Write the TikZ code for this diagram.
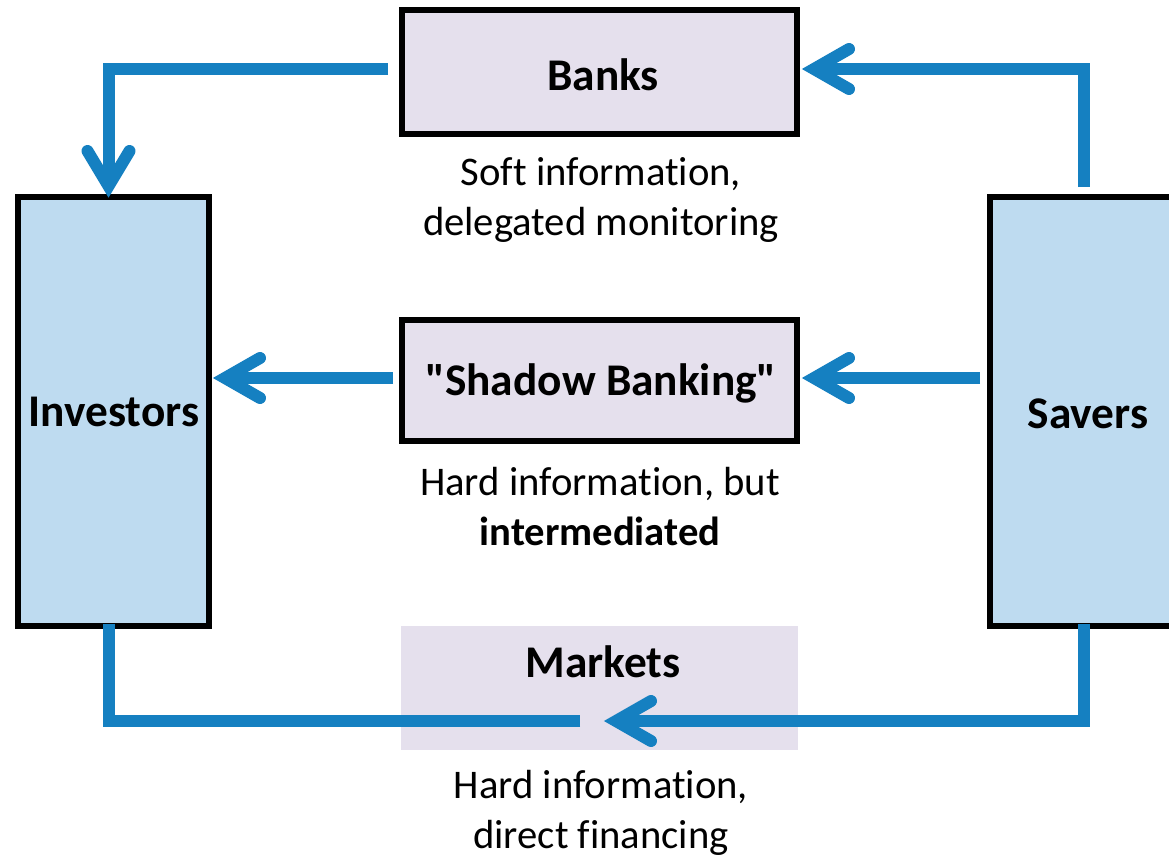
\documentclass[tikz,border=0pt]{standalone}
\usepackage{fontspec}
\setmainfont{Carlito}
\newfontfamily\carl{Carlito}[Ligatures=NoCommon]
\usetikzlibrary{calc}
\definecolor{arrowblue}{RGB}{21,128,193}
\definecolor{boxblue}{RGB}{190,219,240}
\definecolor{boxlav}{RGB}{229,224,237}
\tikzset{
  frame/.style={draw=black, line width=4.5pt, inner sep=0pt, outer sep=0pt},
  titletext/.style={font=\carl\fontsize{34}{40}\selectfont\bfseries},
  notetext/.style={font=\carl\fontsize{30.5}{37.5}\selectfont, align=center, inner sep=0pt},
  flow/.style={draw=arrowblue, line width=9pt, line join=miter, line cap=butt},
  chev/.style={draw=arrowblue, line width=9pt, line join=miter, miter limit=10, line cap=round},
}
\begin{document}
\begin{tikzpicture}[x=0.75pt,y=-0.75pt]
\clip (0,0) rectangle (1169,856);
\fill[white] (0,0) rectangle (1169,856);

% boxes
\node[frame, fill=boxlav, minimum width=395*0.75pt, minimum height=124*0.75pt] (banks) at (599.5,72) {};
\node[titletext] (bankslabel) at (603,75) {Banks};
\node[frame, fill=boxlav, minimum width=395*0.75pt, minimum height=121*0.75pt] (shadow) at (599.5,380.5) {};
\node[titletext] (shadowlabel) at (601,383) {"Shadow Banking"};
\node[frame, fill=boxblue, minimum width=191.5*0.75pt, minimum height=429*0.75pt] (inv) at (113.25,411.5) {};
\node[titletext] (invlabel) at (114,412) {Investors};
\node[frame, fill=boxblue, minimum width=195*0.75pt, minimum height=429*0.75pt] (sav) at (1087.5,411.5) {};
\node[titletext] (savlabel) at (1088,414) {Savers};
\node[fill=boxlav, inner sep=0pt, minimum width=396.5*0.75pt, minimum height=123.5*0.75pt] (markets) at (599.25,687.75) {};
\node[titletext] (marketslabel) at (603,662) {Markets};

% notes
\node[notetext] (banksnote) at (601,200) {Soft information,\\delegated monitoring};
\node[notetext] (shadownote) at (600,507) {Hard information, but\\\textbf{intermediated}};
\node[notetext] (marketsnote) at (601,813) {Hard information,\\direct financing};

% connector coordinates
\coordinate (a1) at (388,69);
\coordinate (a1c) at (108.5,69);
\coordinate (t1) at (108.5,186);
\coordinate (a2) at (1084,187);
\coordinate (a2c) at (1084,69);
\coordinate (t2) at (814,69);
\coordinate (a3) at (393,378);
\coordinate (t3) at (225,378);
\coordinate (a4) at (980,378);
\coordinate (t4) at (814,378);
\coordinate (a5) at (1084,624);
\coordinate (a5c) at (1084,721);
\coordinate (t5) at (616,721);
\coordinate (a6) at (580,721);
\coordinate (a6c) at (108.5,721);
\coordinate (a6e) at (108.5,624);

% connectors
\draw[flow] (a1) -- (a1c) -- (t1);
\draw[chev] ([shift={(-21,-35)}]t1) -- (t1) -- ([shift={(21,-35)}]t1);
\draw[flow] (a2) -- (a2c) -- (t2);
\draw[chev] ([shift={(35,-20)}]t2) -- (t2) -- ([shift={(35,20)}]t2);
\draw[flow] (a3) -- (t3);
\draw[chev] ([shift={(35,-20)}]t3) -- (t3) -- ([shift={(35,20)}]t3);
\draw[flow] (a4) -- (t4);
\draw[chev] ([shift={(35,-20)}]t4) -- (t4) -- ([shift={(35,20)}]t4);
\draw[flow] (a5) -- (a5c) -- (t5);
\draw[chev] ([shift={(35,-20)}]t5) -- (t5) -- ([shift={(35,20)}]t5);
\draw[flow] (a6) -- (a6c) -- (a6e);
\end{tikzpicture}
\end{document}
